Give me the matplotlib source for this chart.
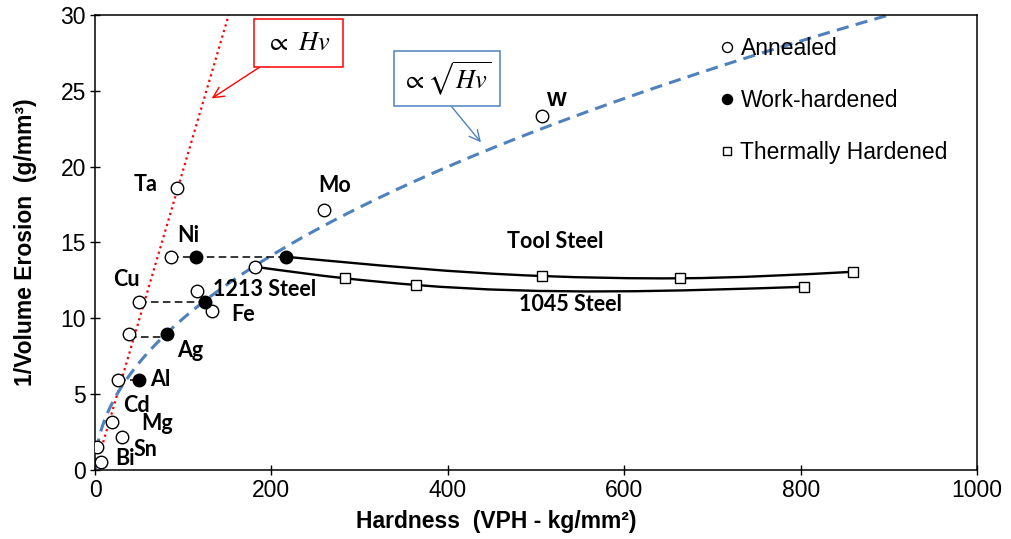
import numpy as np
import matplotlib
matplotlib.use('Agg')
import matplotlib.pyplot as plt
from matplotlib.path import Path
from matplotlib.patches import PathPatch

plt.rcParams['font.family'] = ['Liberation Sans', 'DejaVu Sans']
plt.rcParams['mathtext.fontset'] = 'stix'

# annealed metals: hardness (VPH) and 1/volume erosion (g/mm^3)
ann_names = ['Ta', 'Ni', 'Cu', '1213 Steel', 'Fe', 'Ag', 'Al', 'Cd', 'Mg', 'Sn', 'Bi', 'Mo', 'W', '1045 Steel']
ann_hv = [92.6, 86.2, 50.2, 116.0, 133.0, 38.9, 25.7, 18.9, 30.3, 2.6, 6.4, 260.0, 506.5, 181.4]
ann_inv = [18.57, 14.06, 11.09, 11.82, 10.48, 8.95, 5.93, 3.14, 2.20, 1.54, 0.55, 17.14, 23.34, 13.40]

# work-hardened: Ni, 1213 steel, Ag, Al, tool steel
wh_hv = [114.2, 124.7, 81.3, 49.5, 216.2]
wh_inv = [14.06, 11.09, 8.95, 5.93, 14.06]

# thermally hardened steels
tool_hv = [506.5, 663.3, 859.8]
tool_inv = [12.79, 12.64, 13.07]
s1045_hv = [283.4, 363.6, 804.2]
s1045_inv = [12.64, 12.20, 12.08]

# annealed -> work-hardened connectors
link_from = [86.2, 50.2, 38.9, 25.7]
link_to = [216.2, 124.7, 81.3, 49.5]
link_inv = [14.06, 11.09, 8.75, 5.93]

# proportionality guides
k_lin = 0.198    # 1/E ~ Hv
k_sqrt = 1.0     # 1/E ~ sqrt(Hv)

BLUE = '#4F81BD'
LBL = dict(family=['Lato', 'DejaVu Sans'], fontweight='bold', fontsize=15.5, ha='center', va='center')


def smooth_path(xs, ys):
    # cubic Hermite through the points, written as bezier segments
    x = np.asarray(xs, float); y = np.asarray(ys, float)
    h = np.diff(x); s = np.diff(y) / h
    m = np.empty_like(x)
    m[1:-1] = (s[:-1] * h[1:] + s[1:] * h[:-1]) / (h[:-1] + h[1:])
    m[0] = (3 * s[0] - m[1]) / 2
    m[-1] = (3 * s[-1] - m[-2]) / 2
    verts = [(x[0], y[0])]; codes = [Path.MOVETO]
    for i in range(len(h)):
        d = h[i] / 3
        verts += [(x[i] + d, y[i] + d * m[i]), (x[i + 1] - d, y[i + 1] - d * m[i + 1]), (x[i + 1], y[i + 1])]
        codes += [Path.CURVE4] * 3
    return Path(verts, codes)


fig = plt.figure(figsize=(10.11, 5.39), dpi=100)
ax = fig.add_axes([0.0940, 0.1280, 0.8724, 0.8442])
ax.set_xlim(0, 1000); ax.set_ylim(0, 30)

# guide curves
xl = np.linspace(0, 30 / k_lin, 50)
ax.plot(xl, k_lin * xl, color='red', lw=1.6, ls=(0, (1, 1.6)), zorder=2)
xs = np.linspace(0, 1000, 400)
ax.plot(xs, k_sqrt * np.sqrt(xs), color=BLUE, lw=2.2, ls=(0, (4, 2.4)), zorder=2)

# connectors
for a, b, yv in zip(link_from, link_to, link_inv):
    ax.plot([a, b], [yv, yv], color='k', lw=1.1, ls=(0, (5, 2.8)), zorder=3)

# steel curves
ax.add_patch(PathPatch(smooth_path([wh_hv[-1]] + tool_hv, [wh_inv[-1]] + tool_inv),
                       fill=False, ec='k', lw=1.7, zorder=3))
ax.add_patch(PathPatch(smooth_path([ann_hv[-1]] + s1045_hv, [ann_inv[-1]] + s1045_inv),
                       fill=False, ec='k', lw=1.7, zorder=3))

# markers
h_ann, = ax.plot(ann_hv, ann_inv, 'o', ms=9, mfc='white', mec='k', mew=1.0, ls='none', zorder=5)
h_wh, = ax.plot(wh_hv, wh_inv, 'o', ms=9, mfc='k', mec='k', mew=1.0, ls='none', zorder=5)
h_th, = ax.plot(tool_hv + s1045_hv, tool_inv + s1045_inv, 's', ms=7.5, mfc='white', mec='k',
                mew=1.0, ls='none', zorder=5)

# point labels
lbl_pos = {'Ta': (57.5, 18.83), 'Ni': (105.8, 15.49), 'Cu': (35.9, 12.57), 'Fe': (168.1, 10.22),
           'Ag': (107.7, 7.91), 'Al': (73.7, 5.98), 'Cd': (46.5, 4.28), 'Mg': (70.6, 3.08),
           'Sn': (56.7, 1.32), 'Bi': (34.0, 0.79), 'Mo': (272.1, 18.79)}
for nm, (lx, ly) in lbl_pos.items():
    ax.text(lx, ly, nm, zorder=6, **LBL)
ax.text(134.1, 11.87, '1213 Steel', zorder=6, **{**LBL, 'ha': 'left'})
ax.text(521.5, 15.05, 'Tool Steel', zorder=6, **LBL)
ax.text(539.3, 10.88, '1045 Steel', zorder=6, **LBL)
ax.text(523.8, 24.39, 'W', fontsize=15, fontweight='bold', ha='center', va='center', zorder=6)

# guide callouts
ax.annotate(r'$\propto\ Hv$', xy=(132.3, 24.5), xytext=(230.7, 28.17), ha='center', va='center',
            fontsize=19, color='k', zorder=7,
            bbox=dict(boxstyle='square,pad=0.45', fc='white', ec='red', lw=1.1),
            arrowprops=dict(arrowstyle='->,head_length=0.4,head_width=0.2', color='red', lw=1.0,
                            relpos=(0.19, 0), shrinkA=0, shrinkB=0))
ax.annotate(r'$\propto \sqrt{Hv}$', xy=(437.6, 21.6), xytext=(399.1, 25.79), ha='center', va='center',
            fontsize=19, color='k', zorder=7,
            bbox=dict(boxstyle='square,pad=0.32', fc='white', ec=BLUE, lw=1.1),
            arrowprops=dict(arrowstyle='->,head_length=0.4,head_width=0.2', color=BLUE, lw=1.0,
                            relpos=(0.47, 0), shrinkA=0, shrinkB=0))

# axes styling
for sp in ax.spines.values():
    sp.set_linewidth(1.1); sp.set_color('k')
ax.set_xticks(np.arange(0, 1001, 200)); ax.set_yticks(np.arange(0, 31, 5))
ax.tick_params(direction='inout', length=7, width=1.0, labelsize=16.5, pad=3, top=False, right=False)
ax.set_xlabel('Hardness  (VPH - kg/mm²)', fontsize=16.5, fontweight='bold')
ax.set_ylabel('1/Volume Erosion  (g/mm³)', fontsize=16.5, fontweight='bold')
ax.xaxis.set_label_coords(0.455, -0.088)
ax.yaxis.set_label_coords(-0.066, 0.5)

leg = ax.legend([h_ann, h_wh, h_th], ['Annealed', 'Work-hardened', 'Thermally Hardened'],
                loc='upper left', bbox_to_anchor=(0.712, 0.932), bbox_transform=fig.transFigure,
                frameon=False, fontsize=16.5, borderpad=0, borderaxespad=0, handlelength=0.6,
                handletextpad=0.3, labelspacing=1.27, markerscale=0.8)

fig.savefig('out.png', dpi=100)
